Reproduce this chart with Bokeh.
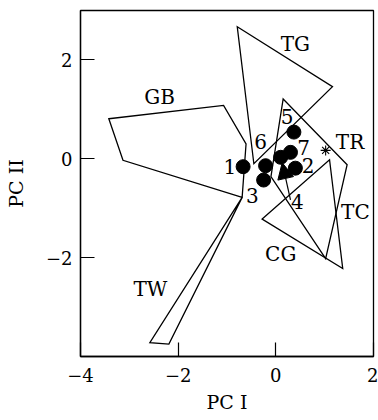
from bokeh.plotting import figure
from bokeh.models import ColumnDataSource, Arrow, NormalHead, FixedTicker, Range1d
from bokeh.core.properties import value
from bokeh.embed import file_html
from bokeh.resources import INLINE

# ---- data ----
group_names = ["GB", "TG", "TR", "CG", "TW"]
gb_x = [-3.42, -1.07, -0.61, -0.69, -3.13]
gb_y = [0.81, 1.08, 0.30, -0.78, -0.03]
tg_x = [-0.79, 1.16, -0.45]
tg_y = [2.67, 1.46, -0.10]
tr_x = [0.15, 1.46, 1.02, -0.10]
tr_y = [1.21, -0.12, -2.02, -0.36]
cg_x = [-0.28, 1.10, 1.37]
cg_y = [-1.22, -0.02, -2.22]
tw_x = [-0.69, -2.58, -2.19]
tw_y = [-0.78, -3.72, -3.75]

label_text = ["GB", "TG", "TR", "TC", "CG", "TW"]
label_x = [-2.38, 0.40, 1.52, 1.63, 0.10, -2.57]
label_y = [1.25, 2.32, 0.33, -1.07, -1.93, -2.63]

pt_names = ["1", "2", "3", "4", "5", "6", "7"]
pt_x = [-0.67, 0.40, -0.25, 0.10, 0.37, -0.21, 0.30]
pt_y = [-0.16, -0.19, -0.43, 0.03, 0.54, -0.14, 0.13]
num_x = [-0.94, 0.66, -0.48, 0.44, 0.23, -0.31, 0.57]
num_y = [-0.16, -0.14, -0.75, -0.87, 0.85, 0.34, 0.22]

star_x = [1.02]
star_y = [0.17]
arrow_start = (0.30, -0.83)
arrow_end = (0.13, -0.08)

x_ticks = [-4, -2, 0, 2]
y_ticks = [-2, 0, 2]

FONT = "DejaVu Serif"

p = figure(width=378, height=420, output_backend="svg", toolbar_location=None,
           x_range=Range1d(-4, 2), y_range=Range1d(-4, 3),
           min_border_left=80, min_border_right=5, min_border_top=10,
           min_border_bottom=64)
p.grid.visible = False
p.outline_line_color = "black"
p.outline_line_width = 1.3
p.background_fill_color = "white"
p.border_fill_color = "white"

for ax in (p.xaxis[0], p.yaxis[0]):
    ax.axis_line_color = "black"
    ax.axis_line_width = 1.3
    ax.major_tick_in = 14
    ax.major_tick_out = 0
    ax.minor_tick_line_color = None
    ax.major_tick_line_color = "black"
    ax.major_tick_line_width = 1.2
    ax.major_label_text_font = FONT
    ax.major_label_text_font_size = "18px"
    ax.major_label_text_color = "black"
    ax.axis_label_text_font = FONT
    ax.axis_label_text_font_size = "19px"
    ax.axis_label_text_font_style = "normal"
    ax.axis_label_text_color = "black"

p.xaxis[0].ticker = FixedTicker(ticks=x_ticks)
p.yaxis[0].ticker = FixedTicker(ticks=y_ticks)
p.xaxis[0].major_label_overrides = {t: ("\u2212" + str(-t) if t < 0 else str(t)) for t in x_ticks}
p.yaxis[0].major_label_overrides = {t: ("\u2212" + str(-t) if t < 0 else str(t)) for t in y_ticks}
p.xaxis[0].major_label_standoff = 11
p.yaxis[0].major_label_standoff = 8
p.xaxis[0].axis_label = "PC I"
p.yaxis[0].axis_label = "PC II"
p.xaxis[0].axis_label_standoff = 6
p.yaxis[0].axis_label_standoff = 16

polys = ColumnDataSource(dict(xs=[gb_x, tg_x, tr_x, cg_x, tw_x],
                              ys=[gb_y, tg_y, tr_y, cg_y, tw_y],
                              name=group_names))
p.patches("xs", "ys", source=polys, fill_color=None, line_color="black",
          line_width=1.3, line_join="miter")

p.add_layout(Arrow(end=NormalHead(size=16, fill_color="black", line_color="black"),
                   x_start=arrow_start[0], y_start=arrow_start[1],
                   x_end=arrow_end[0], y_end=arrow_end[1],
                   line_color="black", line_width=1.2))

p.scatter(pt_x, pt_y, size=14, marker="circle", fill_color="black", line_color="black")
p.scatter(star_x, star_y, size=10, marker="asterisk", line_color="black", line_width=1.1)

p.text(label_x, label_y, text=label_text, text_font=value(FONT), text_font_size="20px",
       text_align="center", text_baseline="middle", text_color="black")
p.text(num_x, num_y, text=pt_names, text_font=value(FONT), text_font_size="20px",
       text_align="center", text_baseline="middle", text_color="black")

open("out.html", "w").write(file_html(p, INLINE))
